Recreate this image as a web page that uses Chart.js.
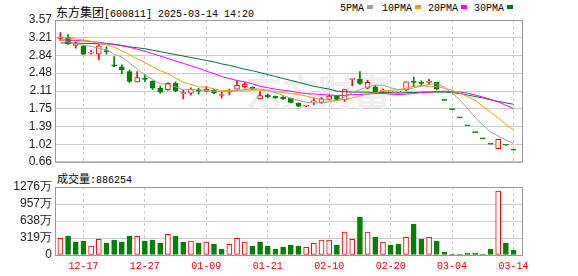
<!DOCTYPE html>
<html><head><meta charset="utf-8">
<script src="https://cdn.jsdelivr.net/npm/chart.js@4/dist/chart.umd.min.js"></script>
<style>
html,body{margin:0;padding:0;background:#fff;width:578px;height:276px;overflow:hidden}
body{position:relative}
canvas{position:absolute;left:0}
#c1{top:0}
#c2{top:172px}
.t{position:absolute;white-space:nowrap;color:#000;line-height:12px}
.cjk{font:12px "Noto Sans CJK SC",sans-serif}
.mono{font:10px "Liberation Mono","DejaVu Sans Mono",monospace}
.sq{display:inline-block;width:6px;height:4px;vertical-align:middle;margin-left:3px;position:relative;top:-1px}
</style></head><body>
<div class="t" style="left:56px;top:3px"><span class="cjk">东方集团</span><span class="mono">[600811] 2025-03-14 14:20</span></div>
<div class="t mono" style="left:340px;top:3px">5PMA<span class="sq" style="background:#a0a0a0"></span></div>
<div class="t mono" style="left:382px;top:3px">10PMA<span class="sq" style="background:#f0a000"></span></div>
<div class="t mono" style="left:428px;top:3px">20PMA<span class="sq" style="background:#ff00ff"></span></div>
<div class="t mono" style="left:474px;top:3px">30PMA<span class="sq" style="background:#007030"></span></div>
<div class="t" style="left:57px;top:170px"><span class="cjk" style="font-size:11px">成交量</span><span class="mono">:886254</span></div>
<canvas id="c1" width="578" height="172"></canvas>
<canvas id="c2" width="578" height="104"></canvas>
<script>
// ---- data ----
const xTickIndex  = [3, 11, 19, 27, 35, 43, 51, 59];
const xTickLabels = ['12-17','12-27','01-09','01-21','02-10','02-20','03-04','03-14'];
const priceTicks  = [0.66, 1.02, 1.39, 1.75, 2.11, 2.48, 2.84, 3.21, 3.57];
const volTicks    = [0, 319, 638, 957, 1276];

const open  = [3.19,3.21,3.05,3.03,2.89,2.87,2.94,2.65,2.61,2.51, 2.30,2.36,2.31,2.17,2.14,2.27,2.06,2.07,2.12,2.11,
               2.13,2.02,2.09,2.15,2.20,2.19,1.95,2.03,2.01,1.99, 1.96,1.86,1.80,1.89,1.88,1.94,2.01,1.93,2.35,2.35,
               2.17,2.20,2.11,2.09,2.09,2.13,2.31,2.28,2.29,2.29, 1.92,1.73,1.56,1.40,1.26,1.13,1.02,0.93,1.00,0.90];
const high  = [3.31,3.27,3.12,3.04,2.95,3.06,3.02,2.82,2.65,2.54, 2.51,2.45,2.32,2.22,2.28,2.30,2.13,2.18,2.17,2.21,
               2.14,2.09,2.15,2.31,2.29,2.20,2.10,2.05,2.01,2.00, 1.97,1.87,1.82,1.97,1.98,2.03,2.02,2.14,2.35,2.51,
               2.33,2.23,2.15,2.12,2.11,2.30,2.40,2.32,2.35,2.29, 1.92,1.73,1.56,1.40,1.26,1.13,1.02,1.12,1.00,0.90];
const low   = [3.15,3.07,2.99,2.86,2.87,2.75,2.87,2.61,2.47,2.29, 2.30,2.31,2.14,2.07,2.13,2.10,1.95,2.03,2.05,2.10,
               2.06,1.97,2.03,2.15,2.17,2.14,1.95,1.97,1.96,1.94, 1.87,1.79,1.79,1.83,1.86,1.93,1.92,1.90,2.22,2.25,
               2.16,2.07,2.09,2.08,2.08,2.12,2.20,2.23,2.25,2.14, 1.92,1.73,1.56,1.40,1.26,1.13,1.02,0.93,1.00,0.90];
const close = [3.22,3.08,3.06,2.87,2.90,3.04,2.92,2.62,2.55,2.31, 2.39,2.35,2.17,2.09,2.27,2.12,2.07,2.15,2.11,2.15,
               2.07,2.03,2.12,2.23,2.25,2.15,2.02,1.99,1.97,1.95, 1.88,1.80,1.81,1.90,1.95,2.01,1.94,2.14,2.35,2.27,
               2.29,2.10,2.12,2.10,2.095,2.30,2.29,2.27,2.30,2.15, 1.92,1.73,1.56,1.40,1.26,1.13,1.02,1.12,1.00,0.90];
const volume = [313,356,244,263,169,294,225,281,244,356, 350,263,281,225,388,356,244,263,225,244,
                206,113,200,313,244,169,244,169,113,150, 188,169,144,219,281,281,188,431,294,713,
                431,338,244,188,206,331,581,300,331,263, 56,19,19,38,38,19,113,1200,225,88.6];
const ma5  = [3.16,3.12,3.09,3.05,3.03,2.99,2.96,2.87,2.81,2.69, 2.56,2.44,2.35,2.26,2.25,2.20,2.14,2.14,2.14,2.12,
              2.11,2.10,2.10,2.12,2.14,2.16,2.15,2.13,2.08,2.02, 1.96,1.92,1.88,1.87,1.87,1.89,1.92,1.99,2.08,2.14,
              2.20,2.23,2.23,2.18,2.14,2.14,2.18,2.21,2.25,2.26, 2.19,2.07,1.93,1.75,1.57,1.42,1.27,1.19,1.11,1.03];
const ma10 = [3.21,3.20,3.18,3.16,3.13,3.10,3.06,3.01,2.94,2.86, 2.77,2.70,2.61,2.53,2.47,2.38,2.29,2.25,2.20,2.19,
              2.16,2.12,2.12,2.13,2.13,2.13,2.13,2.11,2.10,2.08, 2.06,2.04,2.01,1.97,1.94,1.93,1.92,1.94,1.97,2.01,
              2.05,2.08,2.11,2.13,2.14,2.17,2.21,2.22,2.21,2.20, 2.17,2.13,2.07,2.00,1.92,1.80,1.68,1.56,1.43,1.31];
const ma20 = [3.16,3.16,3.15,3.14,3.13,3.11,3.09,3.07,3.04,3.01, 2.97,2.93,2.88,2.83,2.78,2.73,2.68,2.63,2.58,2.52,
              2.47,2.41,2.37,2.33,2.30,2.26,2.21,2.18,2.15,2.13, 2.11,2.08,2.06,2.05,2.04,2.03,2.02,2.02,2.04,2.04,
              2.05,2.06,2.06,2.05,2.04,2.05,2.06,2.08,2.09,2.10, 2.11,2.10,2.09,2.07,2.03,1.99,1.94,1.89,1.82,1.75];
const ma30 = [3.10,3.10,3.10,3.09,3.09,3.08,3.08,3.07,3.05,3.02, 3.00,2.98,2.95,2.92,2.89,2.86,2.83,2.80,2.77,2.74,
              2.71,2.67,2.64,2.60,2.56,2.53,2.49,2.45,2.41,2.37, 2.33,2.29,2.25,2.21,2.18,2.15,2.11,2.10,2.09,2.09,
              2.09,2.08,2.08,2.08,2.07,2.08,2.08,2.09,2.09,2.09, 2.09,2.08,2.06,2.03,2.00,1.97,1.93,1.90,1.87,1.84];

// ---- styling ----
const RED = '#ff0000', GREEN = '#008000';
const MA_COLORS = ['#a0a0a0', '#f0a000', '#ff00ff', '#007030'];
const GRID = '#cccccc', FRAME = '#999999';
const idx = close.map((_, i) => i);
const candleUp = i => close[i] > open[i] ? true : close[i] < open[i] ? false : !(i > 0 && close[i] < close[i - 1]);
const volUp = i => i === 0 ? close[0] >= open[0] : close[i] >= close[i - 1];

const frame = { id: 'frame', afterDraw(c) {
  const { ctx, chartArea: a } = c;
  ctx.save(); ctx.strokeStyle = FRAME; ctx.lineWidth = 1;
  ctx.strokeRect(a.left + 0.5, a.top + 0.5, a.right - a.left, a.bottom - a.top);
  ctx.restore();
}};
const watermark = { id: 'wm', beforeDatasetsDraw(c) {
  const { ctx } = c;
  ctx.save(); ctx.fillStyle = '#efefef'; ctx.font = 'bold 36px "Noto Sans CJK SC"';
  ctx.textAlign = 'center'; ctx.textBaseline = 'middle';
  ctx.fillText('东方财富', 318, 92);
  ctx.restore();
}};

const xScale = (showLabels) => ({
  type: 'linear', min: -0.7, max: 60.1, offset: false,
  afterBuildTicks: s => { s.ticks = xTickIndex.map(v => ({ value: v })); },
  afterFit: s => { s.height = showLabels ? 21 : 0; },
  grid: { color: GRID, drawTicks: false, offset: false },
  border: { display: false, dash: [3, 3] },
  ticks: showLabels ? {
    display: true, autoSkip: false, maxRotation: 0, padding: 5, color: RED,
    font: { family: '"Liberation Mono", "DejaVu Sans Mono", monospace', size: 10 },
    callback: (v) => xTickLabels[xTickIndex.indexOf(v)] || ''
  } : { display: false }
});
const yTickFont = { family: '"Liberation Sans", Arial, sans-serif', size: 12 };

const barDefaults = { grouped: false, borderSkipped: false };

new Chart(document.getElementById('c1'), {
  type: 'bar',
  data: { datasets: [
    { type: 'line', data: idx.map(i => ({ x: i, y: ma5[i] })), borderColor: MA_COLORS[0], borderWidth: 1, pointRadius: 0, order: 1 },
    { type: 'line', data: idx.map(i => ({ x: i, y: ma10[i] })), borderColor: MA_COLORS[1], borderWidth: 1, pointRadius: 0, order: 1 },
    { type: 'line', data: idx.map(i => ({ x: i, y: ma20[i] })), borderColor: MA_COLORS[2], borderWidth: 1, pointRadius: 0, order: 1 },
    { type: 'line', data: idx.map(i => ({ x: i, y: ma30[i] })), borderColor: MA_COLORS[3], borderWidth: 1, pointRadius: 0, order: 1 },
    Object.assign({ data: idx.map(i => ({ x: i, y: [Math.min(open[i], close[i]), Math.max(open[i], close[i])] })),
      barThickness: 5, minBarLength: 1, borderWidth: 1, order: 2,
      backgroundColor: c => candleUp(c.dataIndex) ? '#ffffff' : GREEN,
      borderColor: c => candleUp(c.dataIndex) ? RED : GREEN }, barDefaults),
    Object.assign({ data: idx.map(i => ({ x: i, y: [low[i], high[i]] })),
      barThickness: 1, borderWidth: 0, order: 3,
      backgroundColor: c => candleUp(c.dataIndex) ? RED : GREEN }, barDefaults)
  ]},
  options: {
    responsive: false, animation: false, events: [],
    layout: { padding: { left: 0, right: 56, top: 20, bottom: 7 } },
    plugins: { legend: { display: false }, tooltip: { enabled: false } },
    scales: {
      x: xScale(false),
      y: { type: 'linear', min: 0.66, max: 3.57,
        afterBuildTicks: s => { s.ticks = priceTicks.map(v => ({ value: v })); },
        afterFit: s => { s.width = 55; },
        grid: { color: GRID, drawTicks: false }, border: { display: false },
        ticks: { autoSkip: false, padding: 3, color: '#222', font: yTickFont, callback: v => v.toFixed(2) } }
    }
  },
  plugins: [watermark, frame]
});

new Chart(document.getElementById('c2'), {
  type: 'bar',
  data: { datasets: [
    Object.assign({ data: idx.map(i => ({ x: i, y: volume[i] })),
      barThickness: 5, borderWidth: 1,
      backgroundColor: c => volUp(c.dataIndex) ? '#ffffff' : GREEN,
      borderColor: c => volUp(c.dataIndex) ? RED : GREEN }, barDefaults)
  ]},
  options: {
    responsive: false, animation: false, events: [],
    layout: { padding: { left: 0, right: 56, top: 15, bottom: 0 } },
    plugins: { legend: { display: false }, tooltip: { enabled: false } },
    scales: {
      x: xScale(true),
      y: { type: 'linear', min: 0, max: 1276,
        afterBuildTicks: s => { s.ticks = volTicks.map(v => ({ value: v })); },
        afterFit: s => { s.width = 55; },
        grid: { color: GRID, drawTicks: false }, border: { display: false },
        ticks: { autoSkip: false, padding: 3, color: '#222', font: yTickFont, callback: v => v === 0 ? '0' : v + '万' } }
    }
  },
  plugins: [frame]
});
</script>
</body></html>
